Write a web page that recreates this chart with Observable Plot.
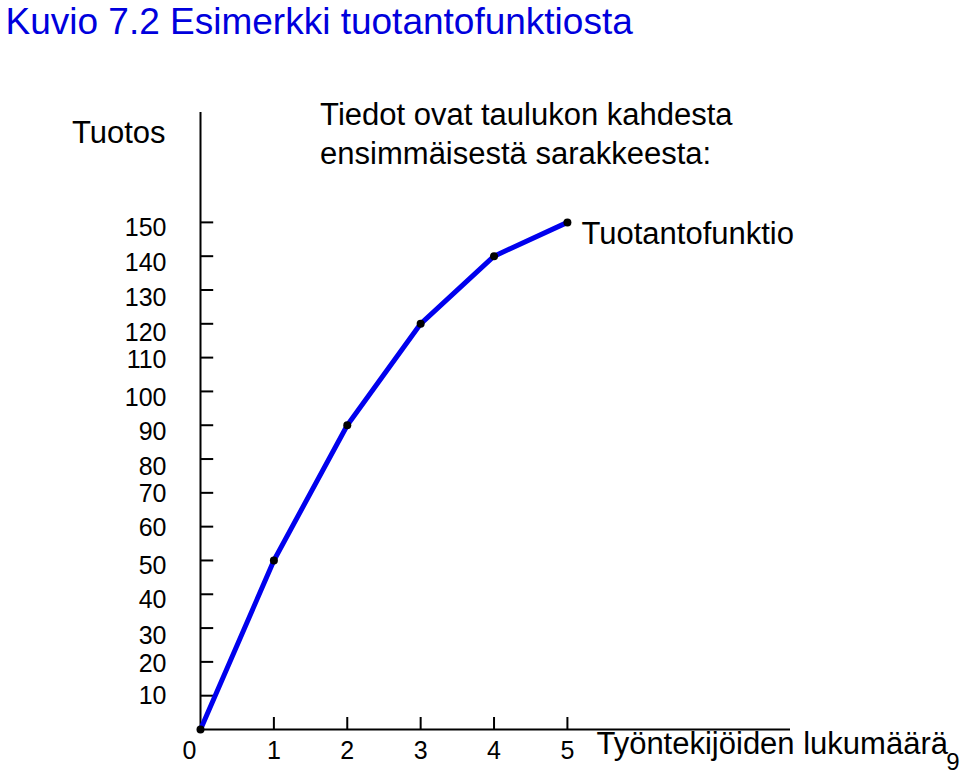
<!DOCTYPE html>
<html>
<head>
<meta charset="utf-8">
<script src="https://cdn.jsdelivr.net/npm/d3@7"></script>
<script src="https://cdn.jsdelivr.net/npm/@observablehq/plot@0.6"></script>
<style>
  body { margin: 0; background: #fff; }
  svg { font-family: "Liberation Sans", Arial, sans-serif; display: block; }
</style>
</head>
<body>
<div id="chart"></div>
<script>
// Data: production function (workers -> output)
const workers = [0, 1, 2, 3, 4, 5];
const output = [0, 50, 90, 120, 140, 150];

// Axis ticks
const yTicks = [10, 20, 30, 40, 50, 60, 70, 80, 90, 100, 110, 120, 130, 140, 150];
const xTicks = [1, 2, 3, 4, 5];
const xTickLabels = ["0", "1", "2", "3", "4", "5"];
// label positions as drawn in the original (slightly off the ticks)
const xLabelPos = [-0.15, 1, 2, 3, 4, 5];
const yLabelPos = [9.8, 19.5, 27.8, 38.2, 48.5, 59.5, 69.8, 77.5, 87.9, 98.2, 109.2, 117.2, 127.5, 137.9, 148.2];

const title = "Kuvio 7.2 Esimerkki tuotantofunktiosta";
const yTitle = "Tuotos";
const xTitle = "Työntekijöiden lukumäärä";
const lineLabel = "Tuotantofunktio";
const note = "Tiedot ovat taulukon kahdesta\nensimmäisestä sarakkeesta:";
const pageNo = "9";

const data = workers.map((w, i) => ({w, q: output[i]}));
const yLabels = yTicks.map((t, i) => ({t, p: yLabelPos[i]}));
const xLabels = xTickLabels.map((t, i) => ({t, p: xLabelPos[i]}));

const chart = Plot.plot({
  width: 960,
  height: 774,
  marginLeft: 200,
  marginRight: 170,
  marginTop: 112,
  marginBottom: 45,
  x: {domain: [0, 8.04], axis: null},
  y: {domain: [0, 182.5], axis: null},
  style: {fontFamily: '"Liberation Sans", Arial, sans-serif', background: "#fff"},
  marks: [
    // axes lines
    Plot.ruleX([0], {stroke: "black", strokeWidth: 2}),
    Plot.ruleY([0], {stroke: "black", strokeWidth: 2}),
    // ticks
    Plot.ruleY(yTicks, {x1: 0, x2: 0.18, stroke: "black", strokeWidth: 2}),
    Plot.ruleX(xTicks, {y1: 0, y2: 3.55, stroke: "black", strokeWidth: 2}),
    // tick labels
    Plot.text(yLabels, {x: 0, y: "p", text: d => String(d.t), dx: -34, textAnchor: "end", fontSize: 25, fill: "black"}),
    Plot.text(xLabels, {x: "p", y: 0, text: "t", dy: 21, fontSize: 25, fill: "black"}),
    // line + dots
    Plot.line(data, {x: "w", y: "q", stroke: "#0000ee", strokeWidth: 5}),
    Plot.dot(data, {x: "w", y: "q", r: 4, fill: "black", stroke: "none"}),
    // labels
    Plot.text([lineLabel], {x: workers[5], y: output[5], text: d => d, dx: 14, dy: 12, textAnchor: "start", fontSize: 31, fill: "black"}),
    Plot.text([xTitle], {x: workers[5], y: 0, text: d => d, dx: 29, dy: 15, textAnchor: "start", fontSize: 31, fill: "black"}),
    Plot.text([yTitle], {x: 0, y: 176.3, text: d => d, dx: -35, textAnchor: "end", fontSize: 31, fill: "black"}),
    Plot.text([note], {x: 1.63, y: 176.6, text: d => d, textAnchor: "start", lineHeight: 1.26, fontSize: 31, fill: "black"}),
    Plot.text([title], {frameAnchor: "top-left", text: d => d, dx: -195, dy: -79, lineAnchor: "bottom", textAnchor: "start", fontSize: 37, fill: "#0000dd"}),
    Plot.text([pageNo], {frameAnchor: "bottom-right", text: d => d, dx: 169, dy: 40, textAnchor: "end", fontSize: 24, fill: "black"})
  ]
});
document.getElementById("chart").appendChild(chart);
</script>
</body>
</html>
